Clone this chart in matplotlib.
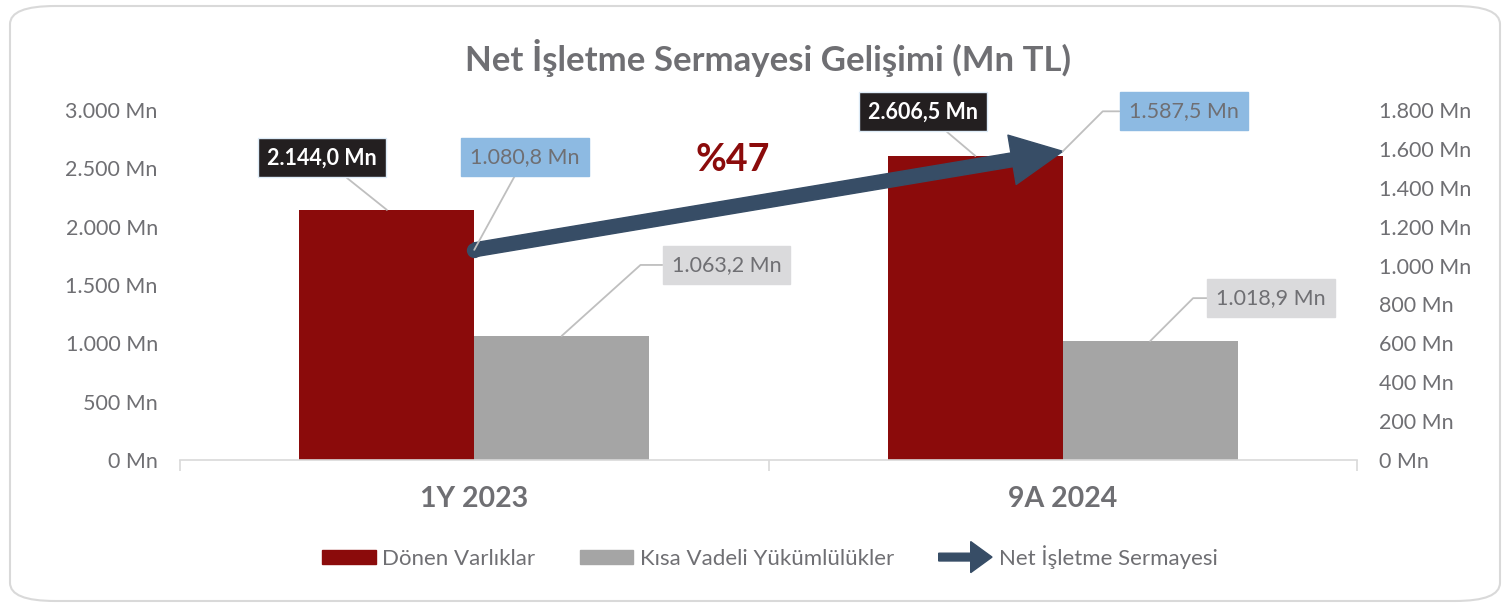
import matplotlib
matplotlib.use("Agg")
import matplotlib.pyplot as plt
import matplotlib.patches as mpatches
from matplotlib.legend_handler import HandlerPatch
import numpy as np

categories = ["1Y 2023", "9A 2024"]
donen_varliklar = [2144.0, 2606.5]
kisa_vadeli = [1063.2, 1018.9]
net_isletme = [1080.8, 1587.5]
series_names = ["Dönen Varlıklar", "Kısa Vadeli Yükümlülükler", "Net İşletme Sermayesi"]
left_ticks = [0, 500, 1000, 1500, 2000, 2500, 3000]
right_ticks = [0, 200, 400, 600, 800, 1000, 1200, 1400, 1600, 1800]
growth_label = "%47"

RED = "#8B0B0B"
GRAY = "#A5A5A5"
NAVY = "#374D66"
TXT = "#6F6F73"
FONT = "Lato"


def fmt_int(v):
    return f"{v:,.0f}".replace(",", ".") + " Mn"


def fmt_dec(v):
    s = f"{v:,.1f}".replace(",", "X").replace(".", ",").replace("X", ".")
    return s + " Mn"


plt.rcParams["font.family"] = [FONT, "DejaVu Sans"]

W, H = 1508, 606
fig = plt.figure(figsize=(W / 100, H / 100), dpi=100)
fig.patch.set_facecolor("white")

# rounded frame
frame = mpatches.FancyBboxPatch((10 / W, 5 / H), 1490 / W, 595 / H,
                                boxstyle="round,pad=0,rounding_size=0.03",
                                transform=fig.transFigure, fc="none",
                                ec="#D9D9D9", lw=1.5, zorder=-1)
fig.patches.append(frame)

ax = fig.add_axes([180 / W, (H - 460) / H, (1357 - 180) / W, 350 / H])
ax.set_facecolor("none")
x = np.arange(len(categories))
bw = 0.297
b1 = ax.bar(x - bw / 2, donen_varliklar, bw, color=RED, zorder=2)
b2 = ax.bar(x + bw / 2, kisa_vadeli, bw, color=GRAY, zorder=2)
ax.set_xlim(-0.5, len(categories) - 0.5)
ax.set_ylim(0, 3000)
ax.set_yticks(left_ticks)
ax.set_yticklabels([fmt_int(v) for v in left_ticks])
ax.set_xticks(x)
ax.set_xticklabels(categories, fontsize=20.5, fontweight="bold", color=TXT)
ax.set_xticks([-0.5, 0.5, 1.5], minor=True)
ax.tick_params(axis="x", which="major", length=0, pad=19)
ax.tick_params(axis="x", which="minor", length=8, color="#D9D9D9", width=1.2)
ax.tick_params(axis="y", length=0, labelsize=15.5, labelcolor=TXT, pad=16)
for s in ["left", "right", "top"]:
    ax.spines[s].set_visible(False)
ax.spines["bottom"].set_color("#D9D9D9")
ax.spines["bottom"].set_linewidth(1.2)

ax2 = ax.twinx()
ax2.set_ylim(0, 1800)
ax2.set_yticks(right_ticks)
ax2.set_yticklabels([fmt_int(v) for v in right_ticks])
ax2.tick_params(axis="y", length=0, labelsize=15.5, labelcolor=TXT, pad=16)
for s in ax2.spines.values():
    s.set_visible(False)

# net working capital arrow (secondary axis)
arr = mpatches.FancyArrowPatch((x[0], net_isletme[0]), (x[1], net_isletme[1]),
                               transform=ax2.transData,
                               arrowstyle="simple,head_length=37,head_width=36,tail_width=10",
                               mutation_scale=1, shrinkA=0, shrinkB=0,
                               color=NAVY, zorder=5)
ax2.add_patch(arr)
ax2.plot([x[0]], [net_isletme[0]], "o", ms=10, color=NAVY, zorder=5)


def label(axis, xv, yv, text, dx, dy, fc, tc, weight="normal", ec=None, conn="arc3"):
    axis.annotate(text, (xv, yv), xytext=(dx * 0.72, dy * 0.72),
                  textcoords="offset points", ha="center", va="center",
                  fontsize=15.5, color=tc, fontweight=weight,
                  bbox=dict(boxstyle="square,pad=0.42", fc=fc, ec=ec or fc, lw=1),
                  arrowprops=dict(arrowstyle="-", color="#BFBFBF", lw=1.3,
                                  shrinkA=0, shrinkB=0, connectionstyle=conn),
                  zorder=6)


# data labels
label(ax, x[0] - bw / 2, donen_varliklar[0], fmt_dec(donen_varliklar[0]), -65, 52,
      "#231F20", "white", "bold", ec="#DDEBF7")
label(ax, x[1] - bw / 2, donen_varliklar[1], fmt_dec(donen_varliklar[1]), -52, 44,
      "#231F20", "white", "bold", ec="#DDEBF7")
label(ax2, x[0], net_isletme[0], fmt_dec(net_isletme[0]), 51, 93, "#8DBAE2", TXT)
label(ax2, x[1], net_isletme[1], fmt_dec(net_isletme[1]), 121, 40, "#8DBAE2", TXT,
      conn="angle,angleA=0,angleB=45,rad=0")
label(ax, x[0] + bw / 2, kisa_vadeli[0], fmt_dec(kisa_vadeli[0]), 165, 71, "#DADADC", TXT,
      conn="angle,angleA=0,angleB=42,rad=0")
label(ax, x[1] + bw / 2, kisa_vadeli[1], fmt_dec(kisa_vadeli[1]), 121, 43, "#DADADC", TXT,
      conn="angle,angleA=0,angleB=45,rad=0")

fig.text(733 / W, 1 - 160 / H, growth_label, color=RED, fontsize=27,
         fontweight="bold", ha="center", va="center")
fig.text(768 / W, 1 - 58 / H, "Net İşletme Sermayesi Gelişimi (Mn TL)", color=TXT,
         fontsize=25, fontweight="bold", ha="center", va="center")


def make_arrow(legend, orig_handle, xdescent, ydescent, width, height, fontsize):
    return mpatches.FancyArrow(-xdescent, height / 2 - ydescent, width, 0,
                               width=height * 0.55, head_width=height * 2.2,
                               head_length=width * 0.4, length_includes_head=True)


h1 = mpatches.Patch(color=RED)
h2 = mpatches.Patch(color=GRAY)
h3 = mpatches.FancyArrow(0, 0, 1, 0, color=NAVY)
fig.legend([h1, h2, h3], series_names, loc="center",
           bbox_to_anchor=(770 / W, 1 - 557 / H), ncol=3, frameon=False,
           fontsize=16, labelcolor=TXT, handlelength=2.4, handleheight=0.6,
           handletextpad=0.3, columnspacing=2.0,
           handler_map={mpatches.FancyArrow: HandlerPatch(patch_func=make_arrow)})

fig.savefig("out.png", dpi=100)
